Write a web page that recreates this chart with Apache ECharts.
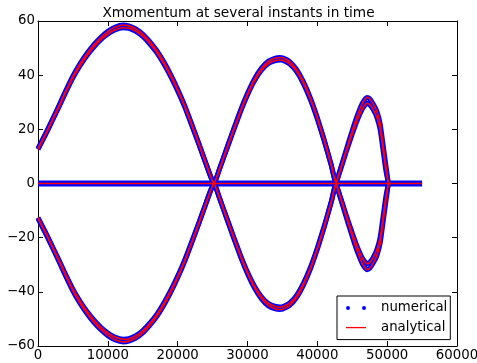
<!DOCTYPE html>
<html>
<head>
<meta charset="utf-8">
<script src="https://cdn.jsdelivr.net/npm/echarts@6/dist/echarts.min.js"></script>
<style>html,body{margin:0;padding:0;background:#fff;}#c{width:477px;height:363px;}</style>
</head>
<body>
<div id="c"></div>
<script>
// ---- data ----
const titleText = 'Xmomentum at several instants in time';
const xTicks = [0, 10000, 20000, 30000, 40000, 50000, 60000];
const yTicks = [-60, -40, -20, 0, 20, 40, 60];

const xLobe1 = [0,1000,2000,3000,4000,5000,6000,7000,8000,9000,10000,11000,12200,13000,14000,15000,16000,17000,18000,19000,20000,21000,22000,23000,24000,25200];
const outerLobe1 = [13.0,18.0,23.3,28.8,34.4,39.7,44.2,48.0,51.3,54.0,56.2,57.7,58.5,58.2,57.1,55.2,52.4,49.1,45.0,40.2,34.8,28.8,22.0,15.0,7.8,0];
const innerLobe1 = [12.6,17.6,22.9,28.3,33.8,39.0,43.4,47.2,50.4,53.1,55.2,56.7,57.5,57.3,56.2,54.3,51.6,48.3,44.2,39.5,34.2,28.3,21.6,14.7,7.6,0];

const xLobe2 = [25200,26000,27000,28000,29000,30000,31000,32000,33000,34000,34650,35000,36000,37000,38000,39000,40000,41000,42000,42670];
const outerLobe2 = [0,5.5,12.8,20.0,27.0,33.3,38.6,42.6,45.2,46.3,46.5,46.4,45.1,42.2,37.6,31.6,24.3,16.0,6.8,0];
const innerLobe2 = [0,5.4,12.5,19.6,26.5,32.7,37.9,41.8,44.3,45.4,45.6,45.5,44.2,41.4,36.9,31.0,23.8,15.6,6.6,0];

const xLobe3 = [42670,43000,43500,44000,44500,45000,45500,46000,46500,47100,47500,48000,48500,49000,49450,49800,50170];
const outerLobe3 = [0,2.8,7.0,11.3,15.5,19.6,23.5,27.0,29.9,31.8,31.3,29.4,26.8,22.0,13.6,7.0,0];
const innerLobe3 = [0,2.7,6.6,10.6,14.5,18.3,21.9,25.1,27.8,29.6,29.1,27.3,24.6,19.8,11.5,5.0,0];

const xZero = [0, 55000];
const yZero = [0, 0];

// ---- build ----
function pts(xs, ys, s) { return xs.map((x, i) => [x, s * ys[i]]); }
function curve(l1, l2, l3, s) {
  return pts(xLobe1, l1, s).concat(pts(xLobe2, l2, s).slice(1), pts(xLobe3, l3, s).slice(1));
}
const curves = [
  curve(outerLobe1, outerLobe2, outerLobe3, 1),
  curve(innerLobe1, innerLobe2, innerLobe3, 1),
  curve(outerLobe1, outerLobe2, outerLobe3, -1),
  curve(innerLobe1, innerLobe2, innerLobe3, -1)
];
const zeroLine = pts(xZero, yZero, 1);

const BLUE = '#0000ff', RED = '#ff0000';
const series = [];
series.push({name: 'numerical', type: 'line', data: zeroLine, symbol: 'none', color: BLUE,
  lineStyle: {color: BLUE, width: 6}, z: 2, silent: true});
curves.forEach(d => series.push({name: 'numerical', type: 'line', data: d, symbol: 'none', color: BLUE,
  smooth: 0.15, lineStyle: {color: BLUE, width: 5, join: 'round'}, z: 2, silent: true}));
series.push({name: 'analytical', type: 'line', data: zeroLine, symbol: 'none', color: RED,
  lineStyle: {color: RED, width: 1.6}, z: 3, silent: true});
curves.forEach(d => series.push({name: 'analytical', type: 'line', data: d, symbol: 'none', color: RED,
  smooth: 0.15, lineStyle: {color: RED, width: 1.6, join: 'round'}, z: 3, silent: true}));

const FONT = 'DejaVu Sans';
const minus = v => String(v).replace('-', '\u2212');
const plain = v => String(v);
const baseAxis = {
  axisLine: {show: true, onZero: false, lineStyle: {color: '#000', width: 1}},
  axisTick: {show: true, inside: true, length: 5, lineStyle: {color: '#000', width: 1}},
  splitLine: {show: false}
};

const option = {
  animation: false,
  backgroundColor: '#fff',
  title: {text: titleText, left: 'center', top: 1,
    textStyle: {fontFamily: FONT, fontSize: 13.7, fontWeight: 'normal', color: '#000'}},
  grid: {left: 38, right: 20, top: 21, bottom: 17, containLabel: false, outerBoundsMode: 'none'},
  legend: {
    left: 337, top: 296, orient: 'vertical',
    backgroundColor: '#fff', borderColor: '#000', borderWidth: 1, borderRadius: 0,
    padding: [5, 3, 5, 9], itemGap: 5.6, itemWidth: 20, itemHeight: 14,
    symbolKeepAspect: true,
    textStyle: {fontFamily: FONT, fontSize: 13.3, color: '#000', padding: [0, 0, 0, 10], lineHeight: 14},
    data: [
      {name: 'numerical', icon: 'path://M0,2a2,2 0 1,0 4,0a2,2 0 1,0 -4,0M16,2a2,2 0 1,0 4,0a2,2 0 1,0 -4,0', itemStyle: {color: BLUE}},
      {name: 'analytical', icon: 'path://M0,0H20V1.3H0Z', itemStyle: {color: RED}}
    ]
  },
  xAxis: [
    Object.assign({}, baseAxis, {type: 'value', position: 'bottom', min: xTicks[0], max: xTicks[xTicks.length - 1], interval: 10000,
      axisLabel: {fontFamily: FONT, fontSize: 13.3, color: '#000', margin: 3, formatter: plain}}),
    Object.assign({}, baseAxis, {type: 'value', position: 'top', min: xTicks[0], max: xTicks[xTicks.length - 1], interval: 10000,
      axisLabel: {show: false}})
  ],
  yAxis: [
    Object.assign({}, baseAxis, {type: 'value', position: 'left', min: yTicks[0], max: yTicks[yTicks.length - 1], interval: 20,
      axisLabel: {fontFamily: FONT, fontSize: 13.3, color: '#000', margin: 3, formatter: minus}}),
    Object.assign({}, baseAxis, {type: 'value', position: 'right', min: yTicks[0], max: yTicks[yTicks.length - 1], interval: 20,
      axisLabel: {show: false}})
  ],
  series: series
};
echarts.init(document.getElementById('c'), null, {renderer: 'canvas'}).setOption(option);
</script>
</body>
</html>
